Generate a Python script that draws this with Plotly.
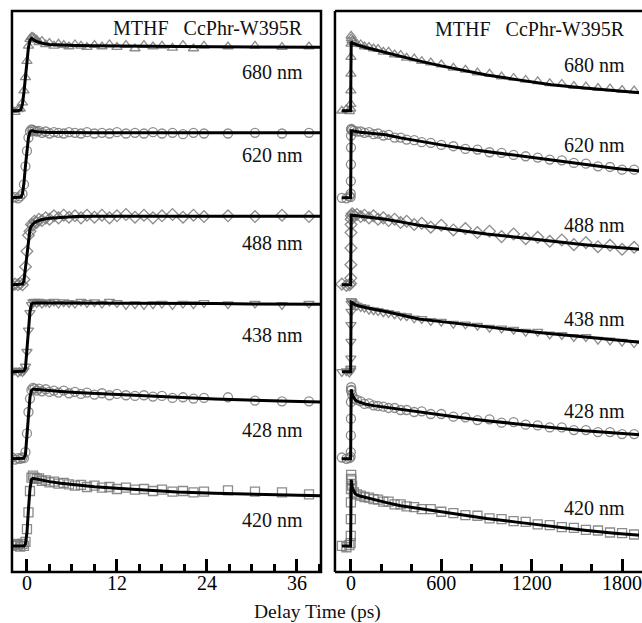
import plotly.graph_objects as go

# ---------------- data ----------------
WAVELENGTHS = ["680 nm", "620 nm", "488 nm", "438 nm", "428 nm", "420 nm"]
SYMBOLS = ["triangle-up-open", "circle-open", "diamond-open",
           "triangle-down-open", "circle-open", "square-open"]

# short window (ps): measured delays
T_L = [-2.0, -1.6, -1.2, -0.9, -0.6, -0.4, -0.2, 0.0, 0.2, 0.4, 0.6, 0.8, 1.0,
       1.3, 1.6, 2.0, 2.5, 3.0, 3.6, 4.2, 4.9, 5.6, 6.4, 7.2, 8.0, 9.0, 10.0,
       11.0, 12.0, 13.2, 14.4, 15.6, 16.8, 18.0, 19.4, 20.8, 22.2, 23.6, 26.8,
       30.4, 34.0, 37.6]

L_680 = [0.01, -0.02, 0.02, 0.03, 0.12, 0.30, 0.50, 0.74, 0.97, 1.07, 1.10, 1.10,
         1.08, 1.06, 1.02, 1.04, 0.99, 1.01, 0.97, 1.00, 0.98, 0.96, 0.99, 0.97,
         0.95, 0.98, 0.96, 0.99, 0.95, 0.98, 0.93, 0.98, 0.96, 0.97, 0.94, 0.98,
         0.93, 0.97, 0.96, 0.97, 0.95, 0.96]
L_620 = [0.00, 0.01, -0.01, 0.02, 0.06, 0.20, 0.47, 0.70, 0.90, 0.99, 1.02, 1.01,
         1.00, 0.99, 1.00, 0.97, 0.99, 0.96, 0.98, 0.97, 0.96, 0.98, 0.97, 0.96,
         0.98, 0.96, 0.97, 0.96, 0.98, 0.96, 0.97, 0.96, 0.98, 0.96, 0.97, 0.95,
         0.97, 0.96, 0.96, 0.97, 0.96, 0.97]
L_488 = [-0.01, 0.01, 0.00, 0.02, 0.00, 0.08, 0.27, 0.50, 0.74, 0.80, 0.90, 0.89,
         0.95, 0.93, 0.98, 0.96, 1.00, 0.98, 1.03, 1.00, 1.04, 1.01, 1.03, 1.00,
         1.04, 1.01, 1.04, 1.00, 1.03, 1.05, 1.01, 1.04, 1.00, 1.03, 1.05, 1.01,
         1.04, 1.02, 1.03, 1.02, 1.04, 1.02]
L_438 = [0.00, 0.02, -0.01, 0.01, 0.00, 0.02, 0.08, 0.30, 0.62, 0.88, 1.00, 1.04,
         1.05, 1.03, 1.05, 1.02, 1.04, 1.03, 1.05, 1.02, 1.04, 1.03, 1.02, 1.05,
         1.03, 1.04, 1.02, 1.05, 1.03, 1.00, 1.01, 1.00, 1.01, 1.02, 1.00, 1.02,
         1.01, 1.03, 1.01, 1.02, 1.00, 1.02]
L_428 = [0.02, -0.01, 0.01, 0.00, 0.02, 0.01, 0.10, 0.38, 0.70, 0.90, 1.03, 1.06,
         1.05, 1.02, 1.05, 1.01, 1.04, 1.00, 1.02, 0.99, 1.02, 0.98, 1.00, 0.97,
         0.99, 0.96, 0.98, 0.95, 0.97, 0.95, 0.94, 0.95, 0.93, 0.94, 0.91, 0.92,
         0.90, 0.91, 0.92, 0.87, 0.86, 0.86]
L_420 = [0.00, 0.03, 0.01, -0.01, 0.03, 0.00, 0.06, 0.25, 0.50, 0.82, 1.02, 1.05,
         1.02, 1.00, 1.01, 0.97, 0.98, 0.95, 0.96, 0.93, 0.94, 0.92, 0.90, 0.91,
         0.88, 0.90, 0.87, 0.88, 0.85, 0.87, 0.84, 0.85, 0.82, 0.84, 0.81, 0.82,
         0.80, 0.81, 0.83, 0.81, 0.80, 0.77]

# short window: fitted curves
FIT_L_T = [-2.0, -1.2, -0.8, -0.6, -0.4, -0.2, 0.0, 0.2, 0.4, 0.6, 0.8, 1.0, 1.4,
           2.0, 3.0, 4.5, 6.5, 9.0, 12.0, 16.0, 20.0, 25.0, 30.0, 35.0, 39.2]
FL_680 = [0, 0, 0.02, 0.10, 0.28, 0.52, 0.76, 0.95, 1.05, 1.08, 1.07, 1.05, 1.03,
          1.01, 0.99, 0.98, 0.975, 0.97, 0.965, 0.96, 0.96, 0.955, 0.95, 0.95, 0.95]
FL_620 = [0, 0, 0.01, 0.06, 0.22, 0.48, 0.73, 0.90, 0.98, 1.00, 1.00, 0.99, 0.985,
          0.98, 0.975, 0.975, 0.97, 0.97, 0.97, 0.97, 0.97, 0.97, 0.97, 0.97, 0.97]
FL_488 = [0, 0, 0, 0.01, 0.06, 0.25, 0.52, 0.72, 0.83, 0.88, 0.91, 0.93, 0.95,
          0.975, 0.995, 1.01, 1.02, 1.025, 1.025, 1.025, 1.025, 1.025, 1.025, 1.025, 1.025]
FL_438 = [0, 0, 0, 0, 0.01, 0.06, 0.32, 0.65, 0.90, 1.01, 1.03, 1.03, 1.03,
          1.03, 1.03, 1.03, 1.03, 1.025, 1.025, 1.02, 1.02, 1.02, 1.015, 1.015, 1.01]
FL_428 = [0, 0, 0, 0, 0.01, 0.07, 0.35, 0.68, 0.92, 1.02, 1.04, 1.04, 1.035,
          1.03, 1.02, 1.005, 0.99, 0.975, 0.96, 0.94, 0.92, 0.895, 0.875, 0.86, 0.85]
FL_420 = [0, 0, 0, 0, 0, 0.03, 0.20, 0.55, 0.85, 0.99, 1.01, 1.005, 0.995,
          0.98, 0.96, 0.935, 0.91, 0.885, 0.86, 0.83, 0.805, 0.785, 0.77, 0.755, 0.75]

# long window (ps): measured delays
T_R = [-60, -30, -10, -2, -1, -0.5, 0, 0.3, 0.7, 1.5, 3, 8, 20, 40, 65, 90, 120,
       150, 180, 215, 250, 290, 330, 370, 420, 470, 530, 600, 680, 760, 840, 920,
       1000, 1080, 1160, 1240, 1320, 1400, 1480, 1560, 1640, 1720, 1800, 1880]

R_680 = [0.00, 0.02, -0.01, 0.03, 0.10, 0.30, 0.55, 0.80, 1.00, 1.12, 1.08, 1.05,
         1.02, 1.00, 0.99, 0.96, 0.95, 0.93, 0.92, 0.88, 0.88, 0.84, 0.83, 0.79,
         0.78, 0.74, 0.72, 0.69, 0.64, 0.61, 0.57, 0.55, 0.51, 0.49, 0.46, 0.44,
         0.41, 0.40, 0.37, 0.36, 0.34, 0.33, 0.31, 0.30]
R_620 = [0.00, -0.01, 0.02, 0.01, 0.06, 0.25, 0.50, 0.75, 0.93, 1.02, 1.03, 1.01,
         1.00, 0.99, 0.99, 0.97, 0.98, 0.95, 0.96, 0.93, 0.94, 0.90, 0.90, 0.87,
         0.86, 0.83, 0.82, 0.79, 0.77, 0.73, 0.72, 0.68, 0.67, 0.64, 0.62, 0.60,
         0.57, 0.56, 0.52, 0.51, 0.47, 0.46, 0.42, 0.42]
R_488 = [0.01, -0.01, 0.00, 0.02, 0.10, 0.30, 0.55, 0.78, 0.90, 0.98, 1.03, 1.06,
         1.04, 1.05, 1.02, 1.04, 1.00, 1.03, 0.98, 1.00, 0.96, 0.98, 0.93, 0.95,
         0.90, 0.92, 0.86, 0.89, 0.82, 0.84, 0.78, 0.80, 0.72, 0.76, 0.69, 0.71,
         0.65, 0.67, 0.60, 0.63, 0.57, 0.59, 0.53, 0.56]
R_438 = [0.00, 0.01, -0.01, 0.02, 0.05, 0.20, 0.45, 0.70, 0.90, 1.02, 1.06, 1.04,
         1.01, 0.99, 0.97, 0.96, 0.93, 0.92, 0.91, 0.89, 0.88, 0.86, 0.84, 0.83,
         0.80, 0.79, 0.76, 0.75, 0.72, 0.71, 0.69, 0.66, 0.65, 0.63, 0.60, 0.60,
         0.56, 0.55, 0.52, 0.52, 0.48, 0.47, 0.45, 0.43]
R_428 = [0.02, 0.00, 0.01, 0.03, 0.10, 0.35, 0.60, 0.85, 1.02, 1.07, 1.03, 0.96,
         0.90, 0.88, 0.86, 0.82, 0.83, 0.80, 0.79, 0.78, 0.76, 0.76, 0.73, 0.73,
         0.70, 0.71, 0.67, 0.67, 0.63, 0.62, 0.58, 0.59, 0.54, 0.55, 0.51, 0.50,
         0.47, 0.47, 0.43, 0.43, 0.40, 0.40, 0.37, 0.37]
R_420 = [0.00, -0.02, 0.01, 0.04, 0.15, 0.40, 0.65, 0.85, 1.00, 1.06, 0.98, 0.90,
         0.80, 0.77, 0.75, 0.73, 0.72, 0.70, 0.69, 0.66, 0.66, 0.62, 0.62, 0.59,
         0.58, 0.55, 0.55, 0.51, 0.49, 0.46, 0.45, 0.41, 0.40, 0.37, 0.36, 0.32,
         0.31, 0.28, 0.27, 0.24, 0.23, 0.20, 0.19, 0.17]

# long window: fitted curves
FIT_R_T = [-60, -2, 0, 2, 10, 30, 60, 100, 150, 230, 330, 450, 600, 750, 900,
           1100, 1330, 1550, 1750, 1919]
FR_680 = [0, 0, 0.6, 1.03, 1.01, 0.99, 0.97, 0.945, 0.915, 0.87, 0.81, 0.745,
          0.67, 0.60, 0.535, 0.465, 0.39, 0.34, 0.30, 0.27]
FR_620 = [0, 0, 0.6, 1.00, 1.00, 0.99, 0.98, 0.97, 0.96, 0.94, 0.895, 0.845,
          0.79, 0.735, 0.69, 0.635, 0.57, 0.50, 0.44, 0.40]
FR_488 = [0, 0, 0.6, 1.04, 1.04, 1.035, 1.03, 1.02, 1.005, 0.98, 0.94, 0.89,
          0.85, 0.80, 0.76, 0.71, 0.65, 0.60, 0.56, 0.53]
FR_438 = [0, 0, 0.6, 1.04, 1.03, 1.00, 0.98, 0.955, 0.935, 0.90, 0.85, 0.79,
          0.75, 0.71, 0.67, 0.62, 0.57, 0.52, 0.475, 0.44]
FR_428 = [0, 0, 0.6, 1.04, 0.95, 0.875, 0.845, 0.815, 0.795, 0.77, 0.735, 0.70,
          0.655, 0.61, 0.57, 0.52, 0.47, 0.42, 0.385, 0.36]
FR_420 = [0, 0, 0.6, 0.99, 0.86, 0.775, 0.745, 0.72, 0.70, 0.65, 0.60, 0.56,
          0.51, 0.46, 0.41, 0.355, 0.29, 0.235, 0.19, 0.16]

LEFT_DATA = [L_680, L_620, L_488, L_438, L_428, L_420]
LEFT_FITS = [FL_680, FL_620, FL_488, FL_438, FL_428, FL_420]
RIGHT_DATA = [R_680, R_620, R_488, R_438, R_428, R_420]
RIGHT_FITS = [FR_680, FR_620, FR_488, FR_438, FR_428, FR_420]

LEFT_TICKS = [0, 12, 24, 36]
RIGHT_TICKS = [0, 600, 1200, 1800]
TITLE = "MTHF\u00a0\u00a0 CcPhr-W395R"

# ---------------- layout helpers ----------------
W, H = 642, 623
STEP = 1.3                      # vertical offset between stacked traces
OFFSETS = [STEP * k for k in range(5, -1, -1)]
SERIF = "Liberation Serif, Times New Roman, serif"
MARK_COLOR = "rgba(120,120,120,0.85)"
FRAME_W = 2.5


def px(x):
    return x / W


def py(y):
    return 1 - y / H


fig = go.Figure()

for i in range(6):
    off = OFFSETS[i]
    for xa, ya, t, d, ft, f in (("x", "y", T_L, LEFT_DATA[i], FIT_L_T, LEFT_FITS[i]),
                                ("x2", "y2", T_R, RIGHT_DATA[i], FIT_R_T, RIGHT_FITS[i])):
        fig.add_trace(go.Scatter(
            x=t, y=[v + off for v in d], mode="markers", xaxis=xa, yaxis=ya,
            marker=dict(symbol=SYMBOLS[i], size=9, color=MARK_COLOR,
                        line=dict(width=1.3, color=MARK_COLOR)),
            showlegend=False, hoverinfo="skip", cliponaxis=True))
        fig.add_trace(go.Scatter(
            x=ft, y=[v + off for v in f], mode="lines", xaxis=xa, yaxis=ya,
            line=dict(color="black", width=3), showlegend=False, hoverinfo="skip"))

y_dom = [py(572), py(11)]
yrange = [-0.39, 7.99]
tickfont = dict(family=SERIF, size=20, color="black")
common_x = dict(ticks="inside", ticklen=13, tickwidth=2.5, tickcolor="black",
                tickfont=tickfont, ticklabelstandoff=-3, ticklabeloverflow="allow",
                showline=False, showgrid=False, zeroline=False)
common_y = dict(showticklabels=False, ticks="", showline=False,
                showgrid=False, zeroline=False, range=yrange, domain=y_dom)

fig.update_layout(
    width=W, height=H, margin=dict(l=0, r=0, t=0, b=0),
    paper_bgcolor="white", plot_bgcolor="white",
    xaxis=dict(domain=[px(12), px(322)], range=[-2.0, 39.2], tickvals=LEFT_TICKS,
               minor=dict(dtick=3, tick0=0, ticks="inside", ticklen=8,
                          tickwidth=2.5, tickcolor="black", showgrid=False),
               **common_x),
    yaxis=dict(**common_y),
    xaxis2=dict(domain=[px(336), 1.0], range=[-106, 1919], anchor="y2",
                tickvals=RIGHT_TICKS,
                minor=dict(dtick=200, tick0=0, ticks="inside", ticklen=8,
                           tickwidth=2.5, tickcolor="black", showgrid=False),
                **common_x),
    yaxis2=dict(anchor="x2", **common_y),
)

# panel frames: full box on the left, open on the right edge of the right panel
frame = dict(color="black", width=FRAME_W)
fig.add_shape(type="rect", xref="paper", yref="paper",
              x0=px(12), x1=px(322), y0=py(572), y1=py(11), line=frame)
for x0, y0, x1, y1 in ((336, 11, 336, 572), (336, 11, 645, 11), (336, 572, 645, 572)):
    fig.add_shape(type="line", xref="paper", yref="paper",
                  x0=px(x0), y0=py(y0), x1=px(x1), y1=py(y1), line=frame)
# keep the cut-off right side of the long-window panel open
fig.add_shape(type="line", xref="paper", yref="paper", x0=1.0, x1=1.0,
              y0=py(569), y1=py(14), line=dict(color="white", width=2))

label_font = dict(family=SERIF, size=20, color="#111")
LEFT_LABEL_Y = [72, 155, 243, 335, 430, 520]
RIGHT_LABEL_Y = [65, 145, 225, 319, 411, 508]
for i, name in enumerate(WAVELENGTHS):
    fig.add_annotation(x=px(306), y=py(LEFT_LABEL_Y[i]), xref="paper", yref="paper",
                       text=name, showarrow=False, xanchor="right", yanchor="middle",
                       font=label_font)
    fig.add_annotation(x=px(629), y=py(RIGHT_LABEL_Y[i]), xref="paper", yref="paper",
                       text=name, showarrow=False, xanchor="right", yanchor="middle",
                       font=label_font)

for xr, yt in ((306, 28), (629, 29)):
    fig.add_annotation(x=px(xr), y=py(yt), xref="paper", yref="paper", text=TITLE,
                       showarrow=False, xanchor="right", yanchor="middle",
                       font=label_font)

fig.add_annotation(x=px(318), y=py(612), xref="paper", yref="paper",
                   text="Delay Time (ps)", showarrow=False, xanchor="center",
                   yanchor="middle", font=dict(family=SERIF, size=19.5, color="#111"))

fig.write_html("out.html")
